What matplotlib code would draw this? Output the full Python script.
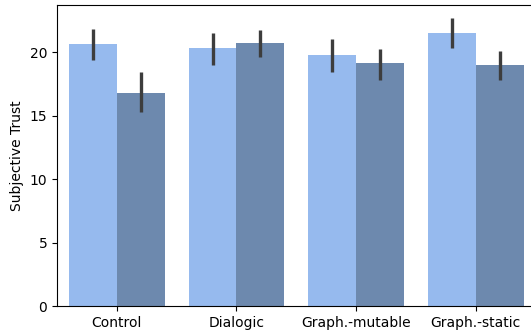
import matplotlib
matplotlib.use("Agg")
import matplotlib.pyplot as plt
import numpy as np

conditions = ["Control", "Dialogic", "Graph.-mutable", "Graph.-static"]
means_a = [20.65, 20.3, 19.8, 21.5]
means_b = [16.8, 20.7, 19.1, 18.95]
ci_a = [(19.4, 21.85), (19.0, 21.5), (18.4, 21.05), (20.3, 22.7)]
ci_b = [(15.3, 18.4), (19.6, 21.75), (17.8, 20.25), (17.8, 20.05)]

colors = ["#96BAEE", "#6D89AE"]
err_color = "#3d3d3d"

fig = plt.figure(figsize=(5.31, 3.32), dpi=100)
ax = fig.add_axes([0.1073, 0.0783, 0.9015, 0.9066])

x = np.arange(len(conditions))
width = 0.4
for i, (means, ci) in enumerate([(means_a, ci_a), (means_b, ci_b)]):
    pos = x - width / 2 + i * width
    ax.bar(pos, means, width, color=colors[i], zorder=1)
    for p, (lo, hi) in zip(pos, ci):
        ax.plot([p, p], [lo, hi], color=err_color, lw=2.4,
                solid_capstyle="butt", zorder=2)

ax.set_xlim(-0.5, 3.5)
ax.set_ylim(0, 23.7)
ax.set_xticks(x)
ax.set_xticklabels(conditions, fontsize=10)
ax.set_yticks([0, 5, 10, 15, 20])
ax.tick_params(labelsize=10)
ax.set_ylabel("Subjective Trust", fontsize=10)

fig.savefig("out.png", dpi=100)
